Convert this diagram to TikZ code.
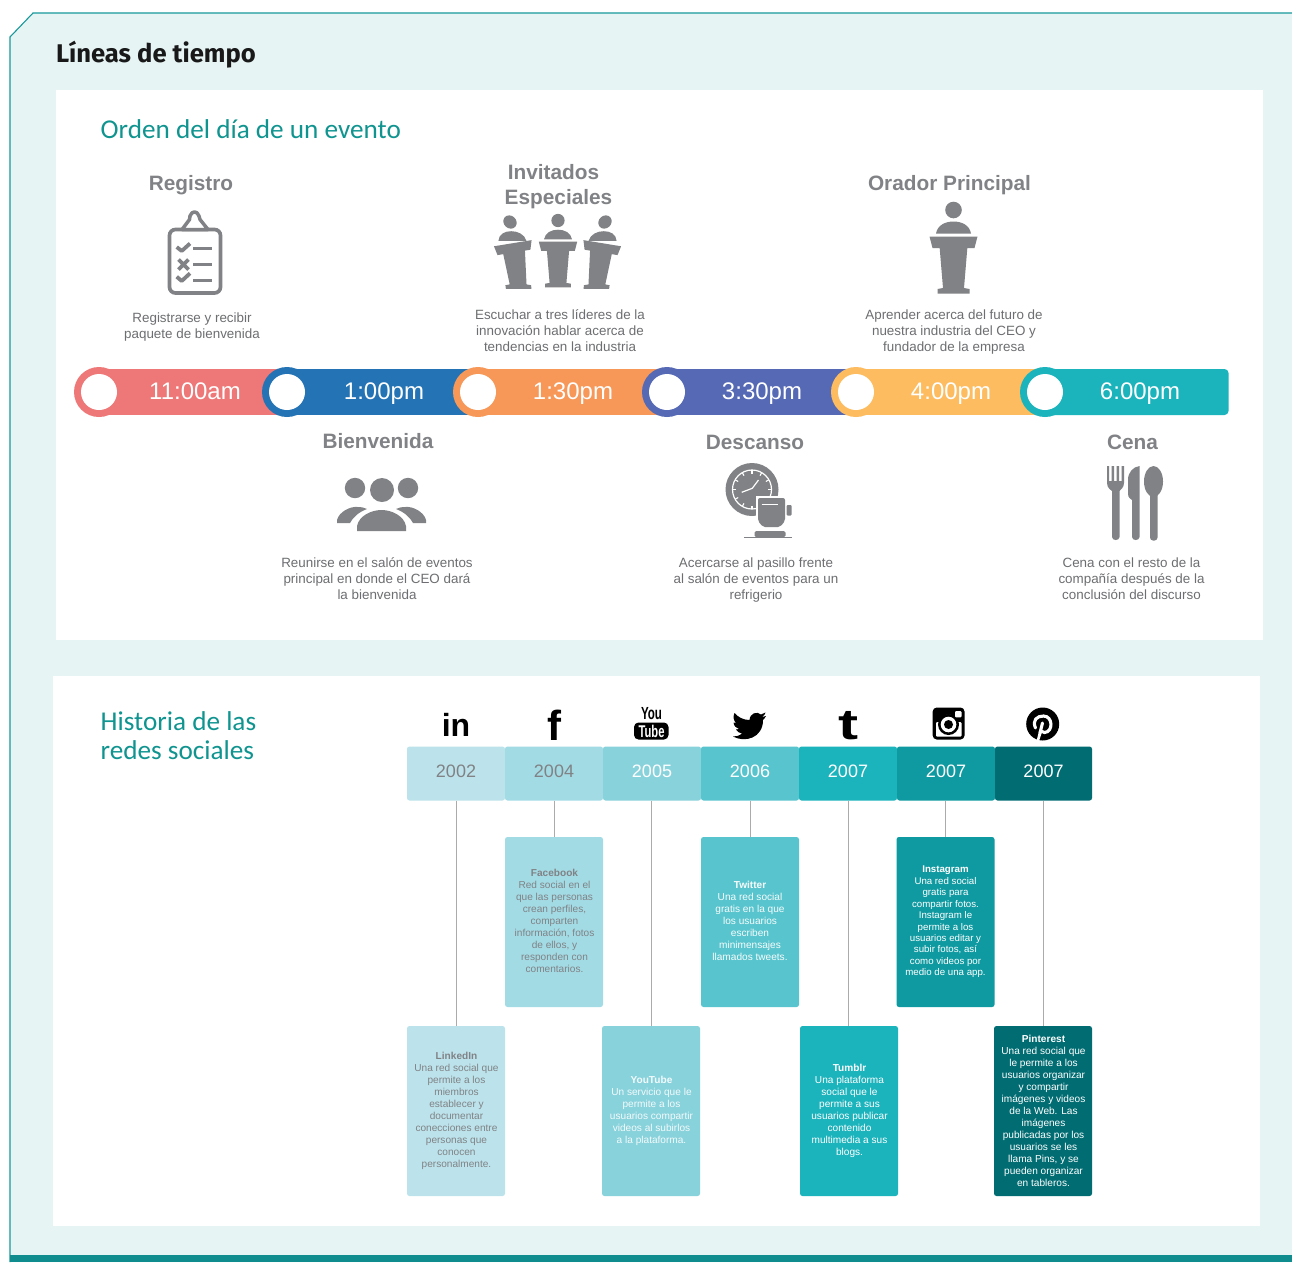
\documentclass[tikz,border=0pt]{standalone}
\usepackage{fontspec}
\setmainfont{Liberation Sans}
\newfontfamily\headf{Carlito}
\newfontfamily\titlef{Fira Sans}
\usetikzlibrary{calc}
\definecolor{panelbg}{HTML}{E6F4F4}
\definecolor{edge}{HTML}{17989A}
\definecolor{band}{HTML}{0E8C8E}
\definecolor{headteal}{HTML}{0F9490}
\definecolor{gtext}{HTML}{808285}
\definecolor{dtext}{HTML}{6D6E71}
\definecolor{lnk}{HTML}{ABABAB}
\definecolor{cpink}{HTML}{EE7777}
\definecolor{cblue}{HTML}{2474B5}
\definecolor{corange}{HTML}{F79858}
\definecolor{cindigo}{HTML}{5569B5}
\definecolor{cyellow}{HTML}{FDBC5F}
\definecolor{cteal}{HTML}{1BB3BC}
\definecolor{ya}{HTML}{BCE3EB}
\definecolor{yb}{HTML}{A3DBE5}
\definecolor{yc}{HTML}{88D2DB}
\definecolor{yd}{HTML}{58C4CD}
\definecolor{ye}{HTML}{1BB3BC}
\definecolor{yf}{HTML}{0F9AA1}
\definecolor{yg}{HTML}{016C72}
\newcommand\fsz[2]{\fontsize{#1}{#2}\selectfont}
\tikzset{
  x=1pt,y=-1pt,
  event/.style={font=\fsz{20.8}{25}\bfseries,text=gtext,align=center,inner sep=0},
  evtext/.style={font=\fsz{13.4}{16},text=dtext,align=center,inner sep=0},
  timetxt/.style={font=\fsz{24}{28},text=white,inner sep=0,anchor=base},
  yearbox/.style={rounded corners=2.5,minimum width=98,minimum height=54,inner sep=0,font=\fsz{18}{20}},
  descbox/.style={rounded corners=2.5,minimum width=98,minimum height=170,inner sep=0},
  desctxt/.style={font=\fsz{10.1}{12},align=center,inner sep=0},
  tie/.style={draw=lnk,line width=1},
  heading/.style={font=\headf\fsz{27.2}{29},text=headteal,align=left,inner sep=0,anchor=west},
}
\newcommand\yr[1]{\raisebox{5pt}{#1}}
% podium: #1 x, #2 y of head centre, #3 scale, #4 column slant, #5 top slab tilt
\newcommand\podium[5]{%
\begin{scope}[shift={(#1,#2)},scale=#3,xslant=#4]
\fill[gtext] (0,0) circle (8.3);
\fill[gtext] (-17.5,23.5) .. controls (-16,15) and (-8,11.5) .. (0,11.5) .. controls (8,11.5) and (16,15) .. (17.5,23.5) -- cycle;
\fill[gtext] (-14.5,30) -- (14.5,30) -- (10.5,78) -- (16,79) -- (16,83.5) -- (-16,83.5) -- (-16,79) -- (-10.5,78) -- cycle;
\begin{scope}[shift={(0,26.5)},yslant=#5,shift={(0,-26.5)}]
\fill[gtext] (-24,26.5) -- (24,26.5) -- (21,38) -- (-21,38) -- cycle;
\end{scope}
\end{scope}}
\begin{document}
\begin{tikzpicture}
\useasboundingbox (0,0) rectangle (1292,1262);
\fill[white] (0,0) rectangle (1292,1262);
% outer panel
\fill[panelbg] (1292,13) -- (33,13) -- (10,37) -- (10,1262) -- (1292,1262) -- cycle;
\draw[edge,line width=1.1] (1292,13) -- (33,13) -- (10,37) -- (10,1262);
\fill[band] (10,1255) rectangle (1292,1262);
\node[font=\titlef\fsz{25.6}{30}\bfseries,text=black!90,anchor=west,inner sep=0] (title) at (56,55) {Líneas de tiempo};
\fill[white] (56,90) rectangle (1263,640);
\fill[white] (53,676) rectangle (1260,1226);
\node[heading] (h1) at (100.5,129) {Orden del día de un evento};
\node[heading] (h2) at (100.5,736) {Historia de las\\redes sociales};

% ---- event timeline
\fill[cpink] (99,369) rectangle (287,415);
\fill[cblue] (287,369) rectangle (478,415);
\fill[corange] (478,369) rectangle (667,415);
\fill[cindigo] (667,369) rectangle (856,415);
\fill[cyellow] (856,369) rectangle (1045,415);
\fill[cteal,rounded corners=4] (1045,369) rectangle (1228.5,415);
\foreach \n/\cx/\cc in {a/99/cpink,b/287/cblue,c/478/corange,d/667/cindigo,e/856/cyellow,f/1045/cteal}{
  \fill[\cc] (\cx,392) circle (25);
  \fill[white] (\cx,392) circle (18);
}
\node[timetxt] (t1) at (195,399.5) {11:00am};
\node[timetxt] (t2) at (384,399.5) {1:00pm};
\node[timetxt] (t3) at (573,399.5) {1:30pm};
\node[timetxt] (t4) at (762,399.5) {3:30pm};
\node[timetxt] (t5) at (951,399.5) {4:00pm};
\node[timetxt] (t6) at (1140,399.5) {6:00pm};

\node[event] (e1) at (191,185) {Registro};
\node[event] (e2) at (558.5,187) {\hspace*{-10pt}Invitados\\Especiales};
\node[event] (e3) at (949.5,185) {Orador Principal};
\node[event] (e4) at (378,441) {Bienvenida};
\node[event] (e5) at (755,442) {Descanso};
\node[event] (e6) at (1132.5,442) {Cena};

\node[evtext] (x1) at (192,326.7) {Registrarse y recibir\\paquete de bienvenida};
\node[evtext] (x2) at (560,331) {Escuchar a tres líderes de la\\innovación hablar acerca de\\tendencias en la industria};
\node[evtext] (x3) at (954,331.7) {Aprender acerca del futuro de\\nuestra industria del CEO y\\fundador de la empresa};
\node[evtext] (x4) at (377,579) {Reunirse en el salón de eventos\\principal en donde el CEO dará\\la bienvenida};
\node[evtext] (x5) at (756,579.7) {Acercarse al pasillo frente\\al salón de eventos para un\\refrigerio};
\node[evtext] (x6) at (1131.5,579) {Cena con el resto de la\\compañía después de la\\conclusión del discurso};

% clipboard
\draw[gtext,line width=3.7,rounded corners=6] (169.5,229.5) rectangle (220.5,293);
\draw[gtext,line width=3.5,line join=round,fill=white] (182,229.5) -- (189.5,219.5) -- (190,216) .. controls (192,210.5) and (197,210.5) .. (199,216) -- (200,219.5) -- (208,229.5) -- cycle;
\draw[gtext,line width=3.8,line join=round] (176.7,247) -- (181.7,251) -- (190,243.5);
\draw[gtext,line width=3] (193.3,248.3) -- (211.7,248.3);
\draw[gtext,line width=3.8] (178.5,259.5) -- (188.5,269.5) (188.5,259.5) -- (178.5,269.5);
\draw[gtext,line width=3] (193.3,264.3) -- (211.7,264.3);
\draw[gtext,line width=3.8,line join=round] (176.7,276.7) -- (181.7,281) -- (190,273.3);
\draw[gtext,line width=3] (193.3,280) -- (211.7,280);

% podiums
\podium{510}{222}{.8}{-0.13}{0.16}
\podium{558}{220.5}{.8}{0}{0}
\podium{605}{222}{.8}{0.13}{-0.16}
\podium{953.5}{210}{1}{0}{0}

% people
\fill[gtext] (382,490) circle (12) (355,488) circle (10.2) (408,488) circle (10.2);
\fill[gtext] (357,531) -- (357,526) .. controls (359,516) and (371,510) .. (381.5,510) .. controls (392,510) and (404,516) .. (406,526) -- (406,531) -- cycle;
\fill[gtext] (337,523) -- (337,520) .. controls (339,512) and (350,506) .. (358,507) .. controls (362,507) and (365,508) .. (367,509) .. controls (359,512) and (353,517) .. (350,523) -- cycle;
\fill[gtext] (426,523) -- (426,520) .. controls (424,512) and (413,506) .. (405,507) .. controls (401,507) and (398,508) .. (396,509) .. controls (404,512) and (410,517) .. (413,523) -- cycle;

% clock and cup
\fill[gtext] (752,489.5) circle (26.5);
\draw[white,line width=1.2] (752,489.5) circle (19.5);
\foreach \a in {0,30,...,330}{\draw[white,line width=1.1] (752,489.5) ++(\a:19.5) -- ++(\a+180:3.5);}
\draw[white,line width=1.2,line join=round] (741.7,492.3) -- (752.3,488.3) -- (758.5,480);
\fill[white] (756,495.5) rectangle (787,530);
\fill[gtext,rounded corners=2] (758,498) -- (785,498) -- (785,521) -- (780,527) -- (763,527) -- (758,521) -- cycle;
\draw[white,line width=1] (761.7,504) -- (778,504);
\fill[gtext,rounded corners=1] (786.7,505) rectangle (791.7,515.5);
\fill[gtext,rounded corners=1.5] (754.5,531) rectangle (785.5,537);
\draw[gtext,line width=.9] (744,537.6) -- (792,537.6);

% cutlery
\fill[gtext] (1107,466) -- (1109,466) -- (1109,481) -- (1111.5,481) -- (1111.5,466) -- (1114,466) -- (1114,481) -- (1116.5,481) -- (1116.5,466) -- (1119,466) -- (1119,481) -- (1121.5,481) -- (1121.5,466) -- (1124,466) -- (1124,483) .. controls (1124,488) and (1120,490) .. (1119.5,491) -- (1119.5,537) .. controls (1119.5,541) and (1112,541) .. (1112,537) -- (1112,491) .. controls (1111,490) and (1107,488) .. (1107,483) -- cycle;
\fill[gtext] (1139.5,466) -- (1139.5,537) .. controls (1139.5,541) and (1132,541) .. (1132,537) -- (1132,500) .. controls (1128,497) and (1128,497) .. (1128,490) -- (1128,480) .. controls (1128,472) and (1133,467) .. (1139.5,466) -- cycle;
\fill[gtext] (1153.5,481.5) ellipse (9.5 and 15.5);
\fill[gtext,rounded corners=3] (1150,490) rectangle (1157.5,540.5);

% ---- social media timeline
\node[yearbox,fill=ya,text=gtext] (y1) at (456,773.5) {\yr{2002}};
\node[yearbox,fill=yb,text=gtext] (y2) at (554,773.5) {\yr{2004}};
\node[yearbox,fill=yc,text=white] (y3) at (652,773.5) {\yr{2005}};
\node[yearbox,fill=yd,text=white] (y4) at (750,773.5) {\yr{2006}};
\node[yearbox,fill=ye,text=white] (y5) at (848,773.5) {\yr{2007}};
\node[yearbox,fill=yf,text=white] (y6) at (946,773.5) {\yr{2007}};
\node[yearbox,fill=yg,text=white,minimum width=97] (y7) at (1043.5,773.5) {\yr{2007}};

\node[descbox,fill=ya] (d1) at (456,1111) {};
\node[descbox,fill=yb] (d2) at (554,922) {};
\node[descbox,fill=yc] (d3) at (651,1111) {};
\node[descbox,fill=yd] (d4) at (750,922) {};
\node[descbox,fill=ye] (d5) at (849,1111) {};
\node[descbox,fill=yf] (d6) at (945.5,922) {};
\node[descbox,fill=yg] (d7) at (1043,1111) {};

\draw[tie] (y1.south) -- (d1.north);
\draw[tie] (y2.south) -- (d2.north);
\draw[tie] (d3.north) -- (d3.north |- y3.south);
\draw[tie] (y4.south) -- (d4.north);
\draw[tie] (y5.south) -- (y5.south |- d5.north);
\draw[tie] (d6.north) -- (d6.north |- y6.south);
\draw[tie] (d7.north) -- (d7.north |- y7.south);

\node[desctxt,text=gtext] (l1) at (456.5,1111) {\textbf{LinkedIn}\\Una red social que\\permite a los\\miembros\\establecer y\\documentar\\conecciones entre\\personas que\\conocen\\personalmente.};
\node[desctxt,text=gtext] (l2) at (554.5,921) {\textbf{Facebook}\\Red social en el\\que las personas\\crean perfiles,\\comparten\\información, fotos\\de ellos, y\\responden con\\comentarios.};
\node[desctxt,text=white!90!yc] (l3) at (651.5,1111) {\textbf{YouTube}\\Un servicio que le\\permite a los\\usuarios compartir\\videos al subirlos\\a la plataforma.};
\node[desctxt,text=white!95!yd] (l4) at (750,921) {\textbf{Twitter}\\Una red social\\gratis en la que\\los usuarios\\escriben\\minimensajes\\llamados tweets.};
\node[desctxt,text=white] (l5) at (849.5,1111) {\textbf{Tumblr}\\Una plataforma\\social que le\\permite a sus\\usuarios publicar\\contenido\\multimedia a sus\\blogs.};
\node[desctxt,text=white,font=\fsz{9.7}{11.45}] (l6) at (945.5,922) {\textbf{Instagram}\\Una red social\\gratis para\\compartir fotos.\\Instagram le\\permite a los\\usuarios editar y\\subir fotos, así\\como videos por\\medio de una app.};
\node[desctxt,text=white] (l7) at (1043.5,1111) {\textbf{Pinterest}\\Una red social que\\le permite a los\\usuarios organizar\\y compartir\\imágenes y videos\\de la Web. Las\\imágenes\\publicadas por los\\usuarios se les\\llama Pins, y se\\pueden organizar\\en tableros.};

% social icons
\node[font=\fsz{32}{36}\bfseries,text=black,inner sep=0] (i1) at (456,725) {in};
\node[font=\fsz{42}{44}\bfseries,text=black,inner sep=0] (i2) at (554.5,725) {f};
\node[font=\fsz{17.5}{18}\bfseries,text=black,inner sep=0] (i3) at (651.5,713.5) {\scalebox{.66}[1]{You}};
\fill[black,rounded corners=4.5] (634,722.5) rectangle (668.5,739.5);
\node[font=\fsz{17}{18}\bfseries,text=white,inner sep=0] (i3b) at (651.5,731) {\scalebox{.66}[1]{Tube}};
\fill[black] (766,716) -- (762,717) .. controls (764,716) and (765,714) .. (765.5,712.5) -- (761,714.5) .. controls (757,711) and (750,713) .. (749.5,720) .. controls (743,720) and (738,717) .. (734.5,713) .. controls (732.5,717) and (734,721) .. (736,723) -- (733.5,722.5) .. controls (734,726) and (736,728) .. (739,729) -- (736,729.5) .. controls (737,732) and (740,733) .. (742,733.5) .. controls (739,736) and (736,736.5) .. (733,736.5) .. controls (745,743) and (763,738) .. (763,720) .. controls (764,719) and (765,718) .. (766,716) -- cycle;
\node[font=\fsz{43}{44}\bfseries,text=black,inner sep=0] (i5) at (849,725.5) {\scalebox{1.4}[1]{t}};
\fill[black,rounded corners=4] (932.7,707.5) rectangle (964.5,739.5);
\fill[white,rounded corners=1] (936,722) -- (941,722) arc (180:360:7.5) -- (961.5,722) -- (961.5,736.5) -- (936,736.5) -- cycle;
\fill[black] (948.5,724.5) circle (10.5);
\fill[white] (948.5,724.5) circle (7.8);
\fill[black] (948.5,724.5) circle (4.5);
\fill[white,rounded corners=1] (955,711) rectangle (961.5,717.3);
\node[circle,fill=black,minimum size=33,inner sep=0] (i7) at (1042.7,724) {};
\draw[white,line width=3.1,line cap=round] (1042.5,723) -- (1040,733);
\draw[white,line width=3.1,line cap=round] (1035.5,728) .. controls (1032,720) and (1037,716) .. (1043.5,716) .. controls (1053,716) and (1053.5,732) .. (1044.5,732.5) .. controls (1043,732.5) and (1042,732) .. (1041,731);
\fill[white] (1039,731) -- (1042,732) -- (1039,741) -- (1036.8,740) -- cycle;
\end{tikzpicture}
\end{document}
